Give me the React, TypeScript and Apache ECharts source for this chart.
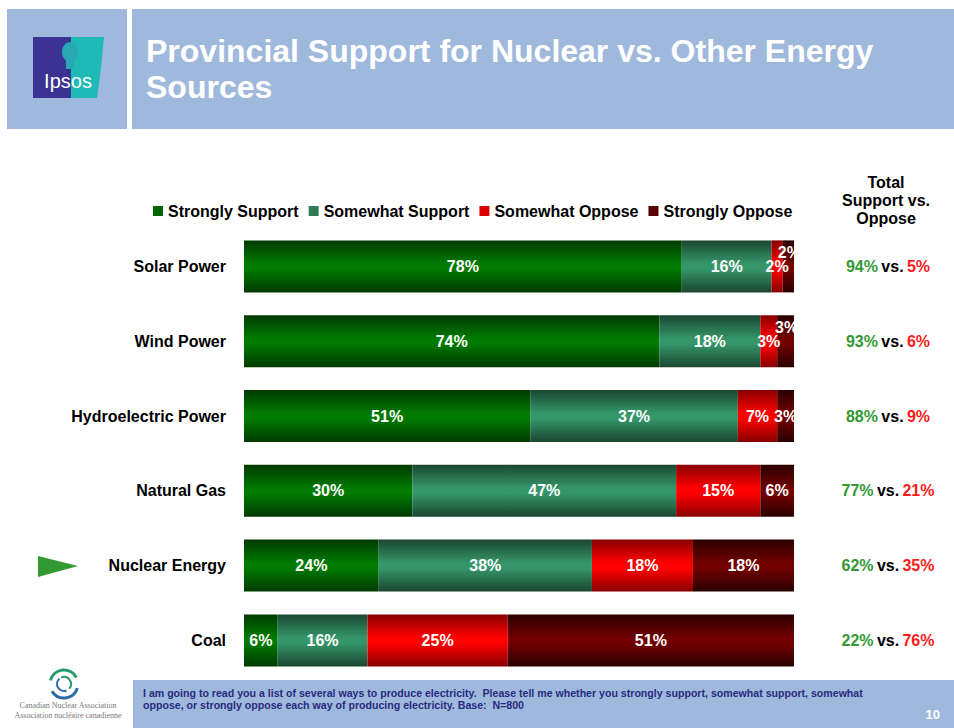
import React, { useEffect, useRef } from "react";
import * as echarts from "echarts";

const categories = ["Solar Power", "Wind Power", "Hydroelectric Power", "Natural Gas", "Nuclear Energy", "Coal"];
const seriesNames = ["Strongly Support", "Somewhat Support", "Somewhat Oppose", "Strongly Oppose"];
const stronglySupport = [78, 74, 51, 30, 24, 6];
const somewhatSupport = [16, 18, 37, 47, 38, 16];
const somewhatOppose = [2, 3, 7, 15, 18, 25];
const stronglyOppose = [2, 3, 3, 6, 18, 51];
const totalSupport = [94, 93, 88, 77, 62, 22];
const totalOppose = [5, 6, 9, 21, 35, 76];

const FONT = "'Liberation Sans', Arial, sans-serif";

const grad = (edge: string, mid: string) =>
  new echarts.graphic.LinearGradient(0, 0, 0, 1, [
    { offset: 0, color: edge },
    { offset: 0.45, color: mid },
    { offset: 0.55, color: mid },
    { offset: 1, color: edge },
  ]);

const palettes = [
  { edge: "#003a00", mid: "#007a00", solid: "#006600" },
  { edge: "#1a4630", mid: "#35966a", solid: "#2e7d57" },
  { edge: "#880000", mid: "#ff0000", solid: "#dd0000" },
  { edge: "#2a0000", mid: "#720000", solid: "#5a0000" },
];

export default function App() {
  const ref = useRef<HTMLDivElement>(null);
  useEffect(() => {
    if (!ref.current) return;
    const chart = echarts.init(ref.current, null, { renderer: "svg" });
    const values = [stronglySupport, somewhatSupport, somewhatOppose, stronglyOppose];
    const total = stronglySupport[0] + somewhatSupport[0] + somewhatOppose[0] + stronglyOppose[0];

    const series = values.map((arr, si) => ({
      name: seriesNames[si],
      type: "bar",
      stack: "total",
      barWidth: 52,
      itemStyle: { color: grad(palettes[si].edge, palettes[si].mid) },
      label: {
        show: true,
        position: "inside",
        formatter: "{c}%",
        color: "#ffffff",
        fontFamily: FONT,
        fontWeight: "bold",
        fontSize: 16,
      },
      data: arr.map((v, i) => {
        const d: any = { value: v };
        if (si === 3 && i <= 1) {
          d.label = { offset: [1, -14] };
        }
        return d;
      }),
    }));

    const bandTop = 229;
    const band = 74.8;
    const totalsGraphics = categories.map((_, i) => ({
      type: "text",
      x: 888,
      y: bandTop + band * (i + 0.5),
      style: {
        text: `{g|${totalSupport[i]}%} {k|vs.} {r|${totalOppose[i]}%}`,
        align: "center",
        verticalAlign: "middle",
        rich: {
          g: { fill: "#339933", fontFamily: FONT, fontWeight: "bold", fontSize: 16 },
          k: { fill: "#000000", fontFamily: FONT, fontWeight: "bold", fontSize: 16 },
          r: { fill: "#ff1a1a", fontFamily: FONT, fontWeight: "bold", fontSize: 16 },
        },
      },
    }));

    chart.setOption({
      animation: false,
      backgroundColor: "#ffffff",
      grid: { left: 244, right: 160, top: bandTop, height: band * 6, containLabel: false },
      legend: {
        top: 198,
        left: 148,
        itemWidth: 10,
        itemHeight: 10,
        itemGap: 10,
        icon: "rect",
        textStyle: { fontFamily: FONT, fontWeight: "bold", fontSize: 16, color: "#000" },
        data: seriesNames.map((n, i) => ({ name: n, itemStyle: { color: palettes[i].solid } })),
      },
      xAxis: { type: "value", min: 0, max: total, show: false },
      yAxis: {
        type: "category",
        data: categories,
        inverse: true,
        axisLine: { show: false },
        axisTick: { show: false },
        axisLabel: {
          margin: 18,
          fontFamily: FONT,
          fontWeight: "bold",
          fontSize: 16,
          color: "#000",
        },
      },
      series,
      graphic: [
        { type: "rect", shape: { x: 7, y: 9, width: 120, height: 120 }, style: { fill: "#9fb9dd" } },
        { type: "rect", shape: { x: 132, y: 9, width: 822, height: 120 }, style: { fill: "#9fb9dd" } },
        { type: "polygon", shape: { points: [[33, 37], [104, 37], [101, 68], [97, 98], [33, 98]] }, style: { fill: "#1fbab5" } },
        { type: "rect", shape: { x: 33, y: 37, width: 38, height: 61 }, style: { fill: "#3b3393" } },
        { type: "ellipse", shape: { cx: 70, cy: 52, rx: 8, ry: 10 }, style: { fill: "#2aa8b3" } },
        { type: "rect", shape: { x: 66, y: 58, width: 8, height: 11 }, style: { fill: "#2aa8b3" } },
        {
          type: "text", x: 68, y: 81,
          style: { text: "Ipsos", fill: "#ffffff", fontFamily: FONT, fontSize: 20, align: "center", verticalAlign: "middle" },
        },
        {
          type: "text", x: 146, y: 33,
          style: {
            text: "Provincial Support for Nuclear vs. Other Energy\nSources",
            fill: "#ffffff", fontFamily: FONT, fontWeight: "bold", fontSize: 32, lineHeight: 36,
          },
        },
        {
          type: "text", x: 886, y: 200,
          style: {
            text: "Total\nSupport vs.\nOppose", fill: "#000", fontFamily: FONT, fontWeight: "bold",
            fontSize: 16, lineHeight: 18, align: "center", verticalAlign: "middle",
          },
        },
        ...totalsGraphics,
        { type: "polygon", shape: { points: [[38, 556], [78, 566], [38, 577]] }, style: { fill: "#339933" } },
        { type: "rect", shape: { x: 133, y: 680, width: 821, height: 48 }, style: { fill: "#9fb9dd" } },
        {
          type: "text", x: 143, y: 687,
          style: {
            text: "I am going to read you a list of several ways to produce electricity.  Please tell me whether you strongly support, somewhat support, somewhat\noppose, or strongly oppose each way of producing electricity. Base:  N=800",
            fill: "#2a2a80", fontFamily: FONT, fontWeight: "bold", fontSize: 10.6, lineHeight: 12,
          },
        },
        {
          type: "text", x: 940, y: 714,
          style: { text: "10", fill: "#ffffff", fontFamily: FONT, fontWeight: "bold", fontSize: 13, align: "right", verticalAlign: "middle" },
        },
        { type: "arc", shape: { cx: 64, cy: 684, r: 14, startAngle: 0.3, endAngle: 2.6 }, style: { stroke: "#2a6aa8", lineWidth: 3, fill: "none" } },
        { type: "arc", shape: { cx: 64, cy: 684, r: 14, startAngle: 3.4, endAngle: 5.8 }, style: { stroke: "#2a9a6a", lineWidth: 3, fill: "none" } },
        { type: "arc", shape: { cx: 64, cy: 684, r: 7, startAngle: 1.2, endAngle: 4.0 }, style: { stroke: "#2a6aa8", lineWidth: 2, fill: "none" } },
        { type: "arc", shape: { cx: 64, cy: 684, r: 7, startAngle: 4.3, endAngle: 7.0 }, style: { stroke: "#2a9a6a", lineWidth: 2, fill: "none" } },
        {
          type: "text", x: 68, y: 710,
          style: {
            text: "Canadian Nuclear Association\nAssociation nucléaire canadienne", fill: "#777777",
            fontFamily: "'Liberation Serif', serif", fontSize: 8, lineHeight: 10, align: "center", verticalAlign: "middle",
          },
        },
      ],
    });
    return () => chart.dispose();
  }, []);
  return <div ref={ref} style={{ width: 954, height: 728, position: "absolute", left: 0, top: 0 }} />;
}
